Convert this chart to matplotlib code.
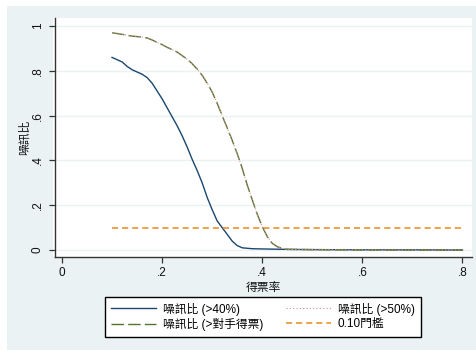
import matplotlib
matplotlib.use("Agg")
import matplotlib.pyplot as plt
from matplotlib.patches import Rectangle

plt.rcParams['font.family'] = ['Liberation Sans', 'Noto Sans CJK TC', 'DejaVu Sans']
plt.rcParams['font.size'] = 8.5

# Data
x_40 = [0.10, 0.11, 0.12, 0.13, 0.14, 0.15, 0.16, 0.17, 0.18, 0.19, 0.20, 0.21, 0.22,
        0.23, 0.24, 0.25, 0.26, 0.27, 0.28, 0.29, 0.30, 0.31, 0.32, 0.33, 0.34, 0.35,
        0.36, 0.38, 0.40, 0.45, 0.50, 0.60, 0.70, 0.80]
y_40 = [0.86, 0.85, 0.84, 0.82, 0.805, 0.795, 0.785, 0.77, 0.745, 0.71, 0.675, 0.635,
        0.595, 0.555, 0.51, 0.46, 0.405, 0.355, 0.30, 0.235, 0.18, 0.13, 0.10, 0.07,
        0.04, 0.02, 0.01, 0.006, 0.005, 0.003, 0.002, 0.001, 0.001, 0.0]

x_opp = [0.10, 0.12, 0.14, 0.16, 0.17, 0.18, 0.19, 0.20, 0.21, 0.22, 0.23, 0.24, 0.25,
         0.26, 0.27, 0.28, 0.29, 0.30, 0.31, 0.32, 0.33, 0.34, 0.35, 0.36, 0.37, 0.38,
         0.39, 0.40, 0.41, 0.42, 0.43, 0.44, 0.45, 0.50, 0.60, 0.80]
y_opp = [0.97, 0.963, 0.955, 0.951, 0.947, 0.938, 0.927, 0.917, 0.905, 0.895, 0.884,
         0.868, 0.852, 0.832, 0.808, 0.78, 0.745, 0.705, 0.655, 0.60, 0.545, 0.49,
         0.43, 0.365, 0.29, 0.225, 0.16, 0.105, 0.06, 0.03, 0.015, 0.007, 0.003,
         0.002, 0.001, 0.0]

x_50 = x_opp
y_50 = y_opp

x_thr = [0.10, 0.80]
y_thr = [0.10, 0.10]

labels = ['噪訊比 (>40%)', '噪訊比 (>50%)', '噪訊比 (>對手得票)', '0.10門檻']
xticks = [0, 0.2, 0.4, 0.6, 0.8]
xticklabels = ['0', '.2', '.4', '.6', '.8']
yticks = [0, 0.2, 0.4, 0.6, 0.8, 1.0]
yticklabels = ['0', '.2', '.4', '.6', '.8', '1']

W, H = 477, 351
fig = plt.figure(figsize=(W / 100, H / 100), dpi=100)
fig.patch.set_facecolor('white')
bg = '#eaf2f3'
fig.patches.append(Rectangle((7 / W, 1 / H), 470 / W, 344 / H, transform=fig.transFigure,
                             facecolor=bg, edgecolor='none', zorder=-10))

ax = fig.add_axes([55 / W, (H - 257) / H, (472 - 55) / W, (257 - 18) / H])
ax.set_zorder(1)
ax.set_facecolor('white')
fig.patches.append(Rectangle((53 / W, (H - 257) / H), 3 / W, (257 - 18) / H,
                             transform=fig.transFigure, facecolor='white',
                             edgecolor='none', zorder=-5))

for yt in yticks:
    ax.axhline(yt, color=bg, lw=1.0, zorder=1)

l1, = ax.plot(x_40, y_40, color='#1a476f', lw=1.0, zorder=3)
l3, = ax.plot(x_opp, y_opp, color='#55752f', lw=1.0, dashes=(9, 3), zorder=3)
l2, = ax.plot(x_50, y_50, color='#d98c96', lw=0.8, ls=(0, (1, 2)), zorder=4)
l4, = ax.plot(x_thr, y_thr, color='#e8891a', lw=1.1, dashes=(4, 2.6), zorder=3)

ax.set_xlim(-0.014, 0.819)
ax.set_ylim(-0.031, 1.036)
ax.set_xticks(xticks)
ax.set_xticklabels(xticklabels)
ax.set_yticks(yticks)
ax.set_yticklabels(yticklabels, rotation=90, va='center')

for s in ['top', 'right']:
    ax.spines[s].set_visible(False)
for s in ['left', 'bottom']:
    ax.spines[s].set_color('#333333')
    ax.spines[s].set_linewidth(1.0)
ax.tick_params(axis='both', direction='out', length=4, width=0.9, color='#333333',
               labelcolor='#111111', labelsize=8.5)
ax.tick_params(axis='x', pad=3)
ax.tick_params(axis='y', pad=4)

ax.set_xlabel('得票率', fontsize=8.5, color='#111111')
ax.xaxis.set_label_coords(0.5, -0.105)
ax.set_ylabel('噪訊比', fontsize=8.5, color='#111111')
ax.yaxis.set_label_coords(-0.058, 0.5)

# ncol=2 fills column-wise, so order handles to get rows: (40%, 50%), (opp, 0.10)
leg = fig.legend([l1, l3, l2, l4], [labels[0], labels[2], labels[1], labels[3]],
                 ncol=2, loc='center',
                 bbox_to_anchor=(263 / W, 1 - 317 / H), frameon=True, fancybox=False,
                 framealpha=1.0,
                 handlelength=3.8, handletextpad=0.6, columnspacing=1.9,
                 labelspacing=0.25, borderpad=0.5, fontsize=8.5)
leg.set_zorder(5)
leg.get_frame().set_edgecolor('black')
leg.get_frame().set_linewidth(1.0)
leg.get_frame().set_facecolor('white')
fig.savefig('out.png', dpi=100, facecolor='white')
